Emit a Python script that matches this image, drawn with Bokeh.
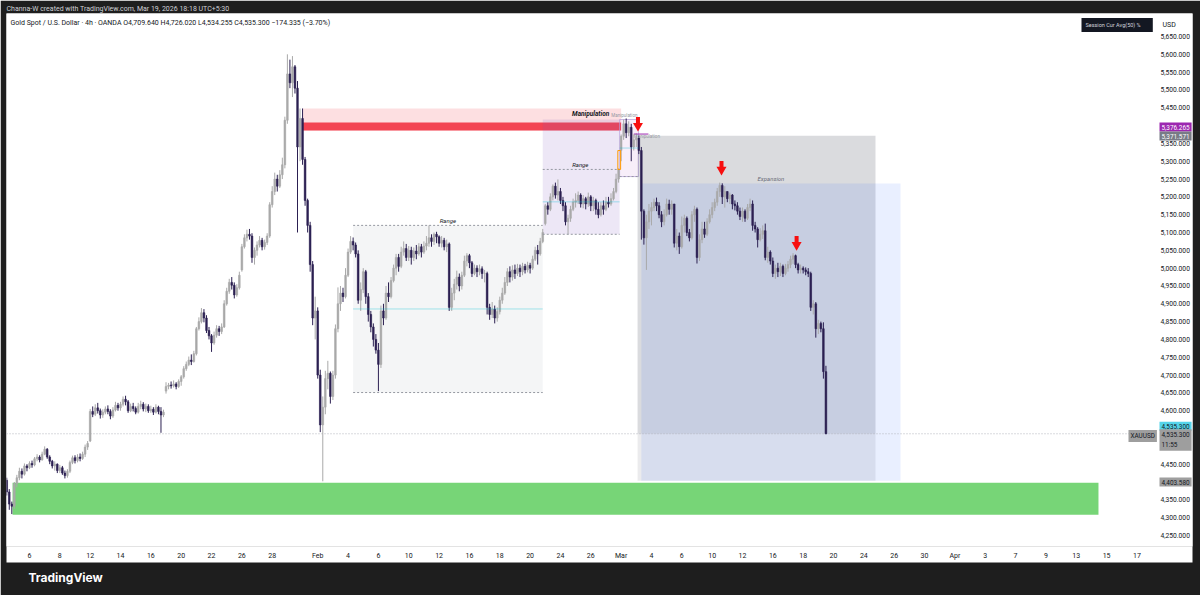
import pandas as pd
from bokeh.plotting import figure
from bokeh.models import Range1d, FixedTicker, Label, Title
from bokeh.core.properties import value
from bokeh.embed import file_html
from bokeh.resources import INLINE

# ---------------------------------------------------------------- data
# XAUUSD (OANDA) 4h candles, six bars per trading session.
BARS_PER_DAY = 6
FIRST_SESSION = "2026-01-02"
FIRST_SLOT = 3

closes = [
    4372, 4338, 4332,                                   # Jan 02
    4395, 4412, 4430, 4422, 4445, 4440,                 # Jan 05
    4452, 4448, 4465, 4470, 4462, 4478,                 # Jan 06
    4492, 4470, 4458, 4445, 4450, 4432,                 # Jan 07
    4440, 4425, 4418, 4430, 4455, 4468,                 # Jan 08
    4460, 4470, 4466, 4478, 4498, 4508,                 # Jan 09
    4598, 4590, 4608, 4600, 4588, 4596,                 # Jan 12
    4605, 4598, 4585, 4602, 4615, 4608,                 # Jan 13
    4618, 4632, 4625, 4600, 4612, 4606,                 # Jan 14
    4596, 4612, 4618, 4605, 4612, 4600,                 # Jan 15
    4604, 4596, 4610, 4598, 4588, 4596,                 # Jan 16
    4668, 4672, 4670, 4675, 4668, 4682,                 # Jan 19
    4695, 4718, 4730, 4742, 4738, 4760,                 # Jan 20
    4830, 4850, 4875, 4860, 4825, 4810,                 # Jan 21
    4790, 4812, 4830, 4822, 4835, 4900,                 # Jan 22
    4935, 4960, 4952, 4925, 4945, 4980,                 # Jan 23
    5060, 5085, 5095, 5090, 5030, 5050,                 # Jan 26
    5065, 5078, 5060, 5072, 5090, 5178,                 # Jan 27
    5215, 5250, 5230, 5262, 5290, 5415,                 # Jan 28
    5545, 5520, 5565, 5505, 5340, 5420,                 # Jan 29
    5305, 5190, 5120, 5010, 4860, 4880,                 # Jan 30
    4700, 4560, 4610, 4690, 4705, 4640,                 # Feb 02
    4700, 4830, 4900, 4930, 4920, 4980,                 # Feb 03
    5045, 5075, 5065, 5040, 4910, 4940,                 # Feb 04
    4990, 4920, 4870, 4835, 4800, 4770,                 # Feb 05
    4730, 4880, 4860, 4930, 4920, 4965,                 # Feb 06
    5000, 5030, 5005, 5045, 5055, 5030,                 # Feb 09
    5050, 5030, 5048, 5040, 5060, 5045,                 # Feb 10
    5062, 5070, 5085, 5075, 5095, 5088,                 # Feb 11
    5070, 5078, 5060, 5068, 4890, 4930,                 # Feb 12
    4955, 4975, 4950, 4980, 5020, 5035,                 # Feb 13
    5015, 4985, 5000, 4990, 4998, 4985,                 # Feb 16
    4985, 4890, 4870, 4885, 4860, 4878,                 # Feb 17
    4910, 4930, 4960, 4990, 4975, 4995,                 # Feb 18
    4985, 5000, 4990, 5005, 4995, 5008,                 # Feb 19
    5000, 5025, 5050, 5040, 5075, 5100,                 # Feb 20
    5175, 5165, 5200, 5230, 5205, 5215,                 # Feb 23
    5190, 5175, 5130, 5140, 5165, 5185,                 # Feb 24
    5190, 5205, 5180, 5195, 5180, 5200,                 # Feb 25
    5175, 5190, 5165, 5150, 5175, 5165,                 # Feb 26
    5185, 5180, 5195, 5215, 5250, 5277,                 # Feb 27
    5370, 5405, 5380, 5395, 5340, 5360,                 # Mar 02
    5365, 5330, 5160, 5085, 5130, 5160,                 # Mar 03
    5170, 5185, 5175, 5150, 5130, 5150,                 # Mar 04
    5180, 5165, 5180, 5070, 5090, 5060,                 # Mar 05
    5120, 5140, 5100, 5085, 5150, 5165,                 # Mar 06
    5030, 5080, 5110, 5095, 5130, 5150,                 # Mar 09
    5170, 5185, 5215, 5232, 5200, 5215,                 # Mar 10
    5195, 5205, 5180, 5175, 5160, 5145,                 # Mar 11
    5160, 5140, 5170, 5180, 5120, 5110,                 # Mar 12
    5080, 5095, 5105, 5030, 5045, 5020,                 # Mar 13
    4985, 5000, 4990, 5005, 4985, 5000,                 # Mar 16
    5010, 5025, 5035, 5010, 4995, 5000,                 # Mar 17
    4995, 4990, 4985, 4890, 4900, 4830,                 # Mar 18
    4845, 4830, 4709.64, 4535.3,                        # Mar 19
]

highs = [
    4412, 4380, 4345,
    4400, 4420, 4440, 4438, 4452, 4450,
    4458, 4460, 4470, 4478, 4475, 4485,
    4500, 4495, 4475, 4462, 4458, 4452,
    4448, 4445, 4432, 4436, 4460, 4474,
    4475, 4478, 4480, 4485, 4505, 4515,
    4605, 4612, 4618, 4622, 4606, 4604,
    4612, 4615, 4604, 4610, 4625, 4622,
    4625, 4640, 4642, 4630, 4620, 4622,
    4612, 4622, 4628, 4624, 4620, 4618,
    4614, 4610, 4618, 4614, 4610, 4603,
    4680, 4678, 4682, 4685, 4680, 4688,
    4700, 4725, 4738, 4752, 4758, 4768,
    4835, 4862, 4888, 4885, 4868, 4835,
    4815, 4822, 4840, 4838, 4845, 4910,
    4945, 4970, 4975, 4960, 4955, 4990,
    5068, 5095, 5108, 5110, 5098, 5058,
    5075, 5090, 5085, 5080, 5098, 5185,
    5230, 5268, 5262, 5275, 5310, 5425,
    5600, 5585, 5595, 5570, 5525, 5448,
    5448, 5312, 5195, 5130, 5020, 4920,
    4890, 4715, 4640, 4712, 4740, 4710,
    4712, 4842, 4946, 4950, 4945, 5000,
    5055, 5090, 5086, 5072, 5050, 4960,
    5000, 4995, 4930, 4880, 4845, 4815,
    4790, 4895, 4900, 4950, 4960, 4975,
    5010, 5040, 5040, 5060, 5075, 5068,
    5062, 5060, 5058, 5065, 5070, 5068,
    5075, 5090, 5120, 5095, 5100, 5102,
    5092, 5090, 5085, 5080, 5072, 4945,
    4970, 4993, 4985, 4990, 5035, 5042,
    5040, 5020, 5010, 5008, 5010, 5005,
    4995, 4990, 4900, 4905, 4895, 4890,
    4920, 4945, 4975, 5000, 5005, 5008,
    5010, 5012, 5010, 5015, 5012, 5018,
    5015, 5035, 5060, 5065, 5085, 5110,
    5180, 5185, 5210, 5235, 5240, 5249,
    5225, 5200, 5185, 5150, 5175, 5195,
    5210, 5215, 5210, 5205, 5200, 5212,
    5205, 5200, 5195, 5185, 5185, 5190,
    5200, 5200, 5210, 5225, 5265, 5280,
    5375, 5417, 5420, 5412, 5405, 5375,
    5378, 5372, 5340, 5165, 5150, 5180,
    5185, 5195, 5198, 5185, 5160, 5165,
    5195, 5192, 5190, 5180, 5110, 5100,
    5145, 5150, 5145, 5110, 5160, 5175,
    5170, 5095, 5130, 5130, 5140, 5165,
    5185, 5195, 5225, 5240, 5238, 5230,
    5215, 5212, 5208, 5190, 5185, 5170,
    5170, 5165, 5180, 5195, 5190, 5130,
    5115, 5112, 5120, 5125, 5060, 5050,
    5030, 5010, 5015, 5015, 5010, 5012,
    5020, 5035, 5042, 5038, 5015, 5010,
    5005, 5002, 5000, 4990, 4910, 4905,
    4855, 4850, 4848, 4726.02,
]

lows = [
    4362, 4322, 4310,
    4325, 4385, 4405, 4410, 4418, 4430,
    4436, 4440, 4444, 4458, 4455, 4460,
    4475, 4465, 4450, 4438, 4432, 4425,
    4425, 4420, 4410, 4412, 4425, 4450,
    4452, 4455, 4458, 4462, 4470, 4490,
    4512, 4582, 4585, 4592, 4578, 4580,
    4590, 4590, 4576, 4580, 4598, 4600,
    4600, 4612, 4615, 4594, 4596, 4598,
    4590, 4592, 4604, 4598, 4596, 4594,
    4594, 4588, 4592, 4590, 4538, 4582,
    4648, 4660, 4662, 4665, 4660, 4664,
    4670, 4690, 4712, 4725, 4728, 4735,
    4755, 4825, 4845, 4848, 4818, 4800,
    4765, 4785, 4805, 4810, 4815, 4832,
    4895, 4928, 4940, 4915, 4920, 4940,
    4990, 5055, 5075, 5080, 5015, 5010,
    5035, 5058, 5050, 5052, 5065, 5085,
    5170, 5205, 5215, 5225, 5250, 5280,
    5405, 5505, 5480, 5490, 5100, 5300,
    5290, 5175, 5100, 4990, 4840, 4800,
    4690, 4540, 4402, 4590, 4660, 4620,
    4630, 4690, 4820, 4880, 4905, 4915,
    4975, 5040, 5050, 5030, 4900, 4880,
    4930, 4900, 4850, 4820, 4780, 4760,
    4655, 4720, 4840, 4855, 4905, 4915,
    4960, 4980, 4990, 5000, 5035, 5020,
    5020, 5010, 5020, 5025, 5035, 5030,
    5040, 5050, 5060, 5060, 5065, 5070,
    5060, 5058, 5050, 5045, 4880, 4880,
    4910, 4940, 4935, 4940, 4975, 5005,
    5000, 4975, 4980, 4975, 4980, 4970,
    4960, 4870, 4855, 4860, 4845, 4850,
    4870, 4900, 4925, 4950, 4960, 4965,
    4970, 4978, 4975, 4980, 4985, 4988,
    4985, 4995, 5020, 5010, 5035, 5070,
    5120, 5150, 5160, 5190, 5195, 5190,
    5180, 5160, 5120, 5095, 5130, 5160,
    5170, 5180, 5170, 5168, 5165, 5172,
    5160, 5160, 5150, 5140, 5145, 5150,
    5160, 5170, 5175, 5190, 5210, 5240,
    5300, 5360, 5365, 5370, 5300, 5330,
    5340, 5320, 5080, 5066, 4995, 5110,
    5120, 5160, 5160, 5140, 5115, 5120,
    5145, 5150, 5150, 5058, 5050, 5040,
    5055, 5100, 5090, 5075, 5080, 5130,
    5013, 5020, 5070, 5085, 5090, 5125,
    5140, 5160, 5175, 5200, 5180, 5170,
    5185, 5180, 5165, 5162, 5150, 5135,
    5130, 5130, 5135, 5160, 5105, 5100,
    5058, 5075, 5082, 5022, 5015, 5010,
    4975, 4970, 4975, 4978, 4975, 4980,
    4990, 5000, 5012, 5000, 4985, 4985,
    4985, 4980, 4975, 4880, 4870, 4805,
    4815, 4820, 4690, 4534.255,
]

# opening prices of session bars that gapped away from the prior close
session_opens = {
    ("2026-01-02", 3): 4405,
    ("2026-01-12", 0): 4515,
    ("2026-01-19", 0): 4655,
    ("2026-01-26", 0): 4995,
    ("2026-02-23", 0): 5125,
    ("2026-03-02", 0): 5330,
    ("2026-03-09", 0): 5165,
}

tick_dates = ["2026-01-06", "2026-01-08", "2026-01-12", "2026-01-14", "2026-01-16",
              "2026-01-20", "2026-01-22", "2026-01-26", "2026-01-28", "2026-02-02",
              "2026-02-04", "2026-02-06", "2026-02-10", "2026-02-12", "2026-02-16",
              "2026-02-18", "2026-02-20", "2026-02-24", "2026-02-26", "2026-03-02",
              "2026-03-04", "2026-03-06", "2026-03-10", "2026-03-12", "2026-03-16",
              "2026-03-18", "2026-03-20", "2026-03-24", "2026-03-26", "2026-03-30",
              "2026-04-01", "2026-04-03", "2026-04-07", "2026-04-09", "2026-04-13",
              "2026-04-15", "2026-04-17"]
tick_labels = ["6", "8", "12", "14", "16", "20", "22", "26", "28", "Feb",
               "4", "6", "10", "12", "16", "18", "20", "24", "26", "Mar",
               "4", "6", "10", "12", "16", "18", "20", "24", "26", "30",
               "Apr", "3", "7", "9", "13", "15", "17"]
price_ticks = list(range(4250, 5700, 50))
price_tick_labels = [f"{v:,.3f}" for v in price_ticks]

last_price = 4535.3
last_open, last_high, last_low = 4709.64, 4726.02, 4534.255
change, change_pct = -174.335, -3.70
bar_countdown = "11:55"

# drawings: (session, bar slot) anchors and price levels
supply_zone = dict(start=("2026-01-30", 0), end=("2026-03-02", 0), top=5448, band_top=5409, bottom=5386)
range_box = dict(start=("2026-02-04", 2), end=("2026-02-20", 5), top=5120, bottom=4651)
consolidation_box = dict(start=("2026-02-20", 5), end=("2026-02-27", 5.4), top=5417, range_top=5277, bottom=5095)
manipulation_box = dict(start=("2026-02-27", 5.4), end=("2026-03-03", 0.9), top=5417, bottom=5257)
weekend_gap = dict(start=("2026-02-27", 4.7), end=("2026-02-27", 5.8), top=5330, bottom=5277)
manipulation_level = dict(start=("2026-03-02", 5.0), end=("2026-03-03", 4.8), price=5376.265)
expansion_box = dict(start=("2026-03-03", 0.5), end=("2026-03-24", 4.6), top=5371.571, bottom=4403.58)
target_box = dict(start=("2026-03-03", 2.0), end=("2026-03-26", 2.5), top=5237.5, bottom=4403.58)
demand_zone = dict(start=("2026-01-02", 5.3), end=("2026-04-14", 2.8), top=4397.6, bottom=4307.9)
lower_high_arrows = [("2026-03-03", 0.66, 5383), ("2026-03-10", 3.7, 5260), ("2026-03-17", 3.4, 5049)]

# ---------------------------------------------------------------- layout constants
W, H = 1200, 595
FRAME_L, FRAME_T, FRAME_R, FRAME_B = 6, 13, 1192, 546
PRICE_COL = 1157               # left edge of the price scale column
PX_PER_DAY = 15.17
X0 = 0.484
X_RANGE = (X0, X0 + (FRAME_R - FRAME_L) / PX_PER_DAY)
Y_RANGE = (4219.0, 5714.5)
PRICE_PER_PX = (Y_RANGE[1] - Y_RANGE[0]) / (FRAME_B - FRAME_T)

DARK = "#1e1e1e"
INK = "#131722"
UP, DOWN = "#a9a9a9", "#2c2052"
FONT = "Roboto"

# ---------------------------------------------------------------- calendar
days = pd.bdate_range(FIRST_SESSION, "2026-04-30")
day_index = {d.strftime("%Y-%m-%d"): i for i, d in enumerate(days)}


def pos(date, slot=0.0):
    return day_index[date] + slot / BARS_PER_DAY


def sx(px):
    """canvas pixel column -> x data value"""
    return X_RANGE[0] + (px - FRAME_L) / PX_PER_DAY


def sy(px):
    """canvas pixel row -> price"""
    return Y_RANGE[1] - (px - FRAME_T) * PRICE_PER_PX


# ---------------------------------------------------------------- candles
assert len(closes) == len(highs) == len(lows)
xs, opens, colors = [], [], []
for i, c in enumerate(closes):
    k, slot = divmod(FIRST_SLOT + i, BARS_PER_DAY)
    date = days[k].strftime("%Y-%m-%d")
    xs.append(k + slot / BARS_PER_DAY)
    o = session_opens.get((date, slot), closes[i - 1] if i else c)
    opens.append(o)
    colors.append(UP if c >= o else DOWN)

tops = [max(o, c) for o, c in zip(opens, closes)]
bots = [min(o, c) for o, c in zip(opens, closes)]
hi = [max(h, t) for h, t in zip(highs, tops)]
lo = [min(l, b) for l, b in zip(lows, bots)]

p = figure(width=W, height=H, x_range=Range1d(*X_RANGE), y_range=Range1d(*Y_RANGE),
           y_axis_location=None, output_backend="svg", toolbar_location=None,
           min_border_left=FRAME_L, min_border_right=W - FRAME_R,
           min_border_top=FRAME_T, min_border_bottom=H - FRAME_B,
           border_fill_color=DARK, background_fill_color="white", outline_line_color=None)
p.grid.visible = False

# header and footer lines on the dark border
p.title = Title(text="Channa-W created with TradingView.com, Mar 19, 2026 18:18 UTC+5:30",
                align="left", text_font=FONT, text_font_size="7px", text_font_style="normal",
                text_color="#cfd1d6", standoff=2, offset=0)
p.add_layout(Title(text="TradingView", align="left", text_font="Inter", text_font_size="12px",
                   text_font_style="bold", text_color="white", standoff=10, offset=22), "below")


def quad(box, top=None, bottom=None, **kw):
    p.quad(left=pos(*box["start"]), right=pos(*box["end"]),
           top=box["top"] if top is None else top,
           bottom=box["bottom"] if bottom is None else bottom, **kw)


def hline(box, price, **kw):
    p.segment(x0=pos(*box["start"]), x1=pos(*box["end"]), y0=price, y1=price, **kw)


# zones below the candles
quad(demand_zone, fill_color="#77d577", line_color=None)
quad(supply_zone, fill_color="#f23645", fill_alpha=0.16, line_color=None)
quad(supply_zone, top=supply_zone["band_top"], fill_color="#f23645", fill_alpha=0.92, line_color=None)
quad(range_box, fill_color="#787b86", fill_alpha=0.08, line_color=None)
quad(consolidation_box, fill_color="#7e57c2", fill_alpha=0.14, line_color=None)
quad(manipulation_box, fill_color="#9c27b0", fill_alpha=0.08, line_color="#b39ddb", line_alpha=0.7)
# expansion leg: darker above the last price, lighter below it
quad(expansion_box, bottom=last_price, fill_color="#787b86", fill_alpha=0.27, line_color=None)
quad(expansion_box, top=last_price, fill_color="#787b86", fill_alpha=0.15, line_color=None)
quad(target_box, fill_color="#2962ff", fill_alpha=0.10, line_color=None)

# last price line
p.segment(x0=X_RANGE[0], x1=sx(PRICE_COL), y0=last_price, y1=last_price,
          line_color="#b2b5be", line_dash="1 2", line_width=1)

# candles
p.segment(x0=xs, x1=xs, y0=hi, y1=lo, line_color=colors, line_width=1)
p.vbar(x=xs, width=0.11, top=tops, bottom=bots, fill_color=colors, line_color=colors, line_width=0.6)

# range / structure lines
dots = dict(line_color="#9598a1", line_dash="2 2", line_width=1)
hline(range_box, range_box["top"], **dots)
hline(range_box, range_box["bottom"], **dots)
hline(range_box, (range_box["top"] + range_box["bottom"]) / 2, line_color="#00bcd4", line_alpha=0.35)
hline(consolidation_box, consolidation_box["range_top"], **dots)
hline(consolidation_box, consolidation_box["bottom"], **dots)
hline(consolidation_box, (consolidation_box["range_top"] + consolidation_box["bottom"]) / 2,
      line_color="#00bcd4", line_alpha=0.35)
hline(manipulation_box, (manipulation_box["top"] + manipulation_box["bottom"]) / 2,
      line_color="#00bcd4", line_alpha=0.35)
hline(manipulation_box, manipulation_box["bottom"], **dots)
quad(weekend_gap, fill_color=None, line_color="#ff9800", line_width=1)
hline(manipulation_level, manipulation_level["price"], line_color="#9c27b0", line_width=1)

# drawing captions
cap = dict(text_font=value(FONT), text_font_style="italic", text_align="center",
           text_baseline="bottom", text_font_size="6px", text_color=INK)
p.text(x=[(pos(*range_box["start"]) + pos(*range_box["end"])) / 2], y=[range_box["top"] + 3],
       text=["Range"], **cap)
p.text(x=[(pos(*consolidation_box["start"]) + pos("2026-02-27", 4.7)) / 2],
       y=[consolidation_box["range_top"] + 3], text=["Range"], **cap)
p.text(x=[(pos(*consolidation_box["start"]) + pos(*manipulation_box["end"])) / 2],
       y=[manipulation_box["top"] + 4], text=["Manipulation"],
       **{**cap, "text_font_style": "bold italic", "text_font_size": "6.5px"})
p.text(x=[pos("2026-03-02", 1.3)], y=[manipulation_box["top"] + 4], text=["Manipulation"],
       **{**cap, "text_font_size": "4.5px", "text_color": "#9598a1", "text_font_style": "normal"})
p.text(x=[pos("2026-03-02", 5.0)], y=[manipulation_level["price"] - 14], text=["Manipulation"],
       **{**cap, "text_font_size": "4.5px", "text_color": "#9598a1", "text_font_style": "normal",
          "text_align": "left"})
p.text(x=[(pos(*target_box["start"]) + pos(*target_box["end"])) / 2], y=[target_box["top"] + 3],
       text=["Expansion"], **{**cap, "text_color": "#6a6d78"})

# lower-high arrows
ax_ = [pos(d, s) for d, s, _ in lower_high_arrows]
tip = [t for _, _, t in lower_high_arrows]
head = [t + 5.8 * PRICE_PER_PX for t in tip]
stem = [t + 11.6 * PRICE_PER_PX for t in tip]
p.rect(x=ax_, y=stem, width=4, height=6, width_units="screen", height_units="screen",
       fill_color="#f70f0f", line_color=None)
p.scatter(x=ax_, y=head, marker="inverted_triangle", size=10, fill_color="#f70f0f", line_color=None)

# ---------------------------------------------------------------- time axis
p.xaxis.ticker = FixedTicker(ticks=[day_index[d] for d in tick_dates])
p.xaxis.major_label_overrides = {day_index[d]: t for d, t in zip(tick_dates, tick_labels)}
xa = p.xaxis[0]
xa.axis_line_color = None
xa.major_tick_line_color = None
xa.minor_tick_line_color = None
xa.major_tick_out = 0
xa.major_tick_in = 0
xa.major_label_text_font = FONT
xa.major_label_text_font_size = "7px"
xa.major_label_text_color = INK
xa.major_label_standoff = 5
xa.background_fill_color = "white"

# price scale column
p.text(x=[sx(PRICE_COL + 3)] * len(price_ticks), y=price_ticks, text=price_tick_labels,
       text_font=value(FONT), text_font_size="6.7px", text_color=INK,
       text_align="left", text_baseline="middle")


# ---------------------------------------------------------------- legend line and price tags
def label(px, py, text, size="7px", color=INK, bg=None, pad=0, **kw):
    p.add_layout(Label(x=sx(px), y=sy(py), text=text, text_font=FONT, text_font_size=size,
                       text_color=color, text_baseline="middle", background_fill_color=bg,
                       padding=pad, **kw))


label(10, 22.5,
      f"Gold Spot / U.S. Dollar \u00b7 4h \u00b7 OANDA  O{last_open:,.3f}  H{last_high:,.3f}  "
      f"L{last_low:,.3f}  C{last_price:,.3f}  \u2212{abs(change):,.3f} (\u2212{abs(change_pct):.2f}%)")
label(1081, 24.5, "Session   Cur   Avg(50)   %", size="5.5px", color="#d1d4dc", bg=INK, pad=4)
label(1162, 24, "USD")

tag = dict(size="6.4px", pad=2)
label(1159, 126.5, f"{manipulation_level['price']:,.3f}", color="white", bg="#9c27b0", **tag)
label(1159, 135.5, f"{expansion_box['top']:,.3f}", color="white", bg="#787b86", **tag)
label(1159, 425.8, f"{last_price:,.3f}", bg="#55d4ea", **tag)
label(1159, 439.5, f"{last_price:,.3f}\n{bar_countdown}", bg="#9e9e9e", **tag)
label(1128, 435.5, "XAUUSD", bg="#9e9e9e", **tag)
label(1159, 481.5, f"{expansion_box['bottom']:,.3f}", bg="#9e9e9e", **tag)

open("out.html", "w").write(file_html(p, INLINE))
